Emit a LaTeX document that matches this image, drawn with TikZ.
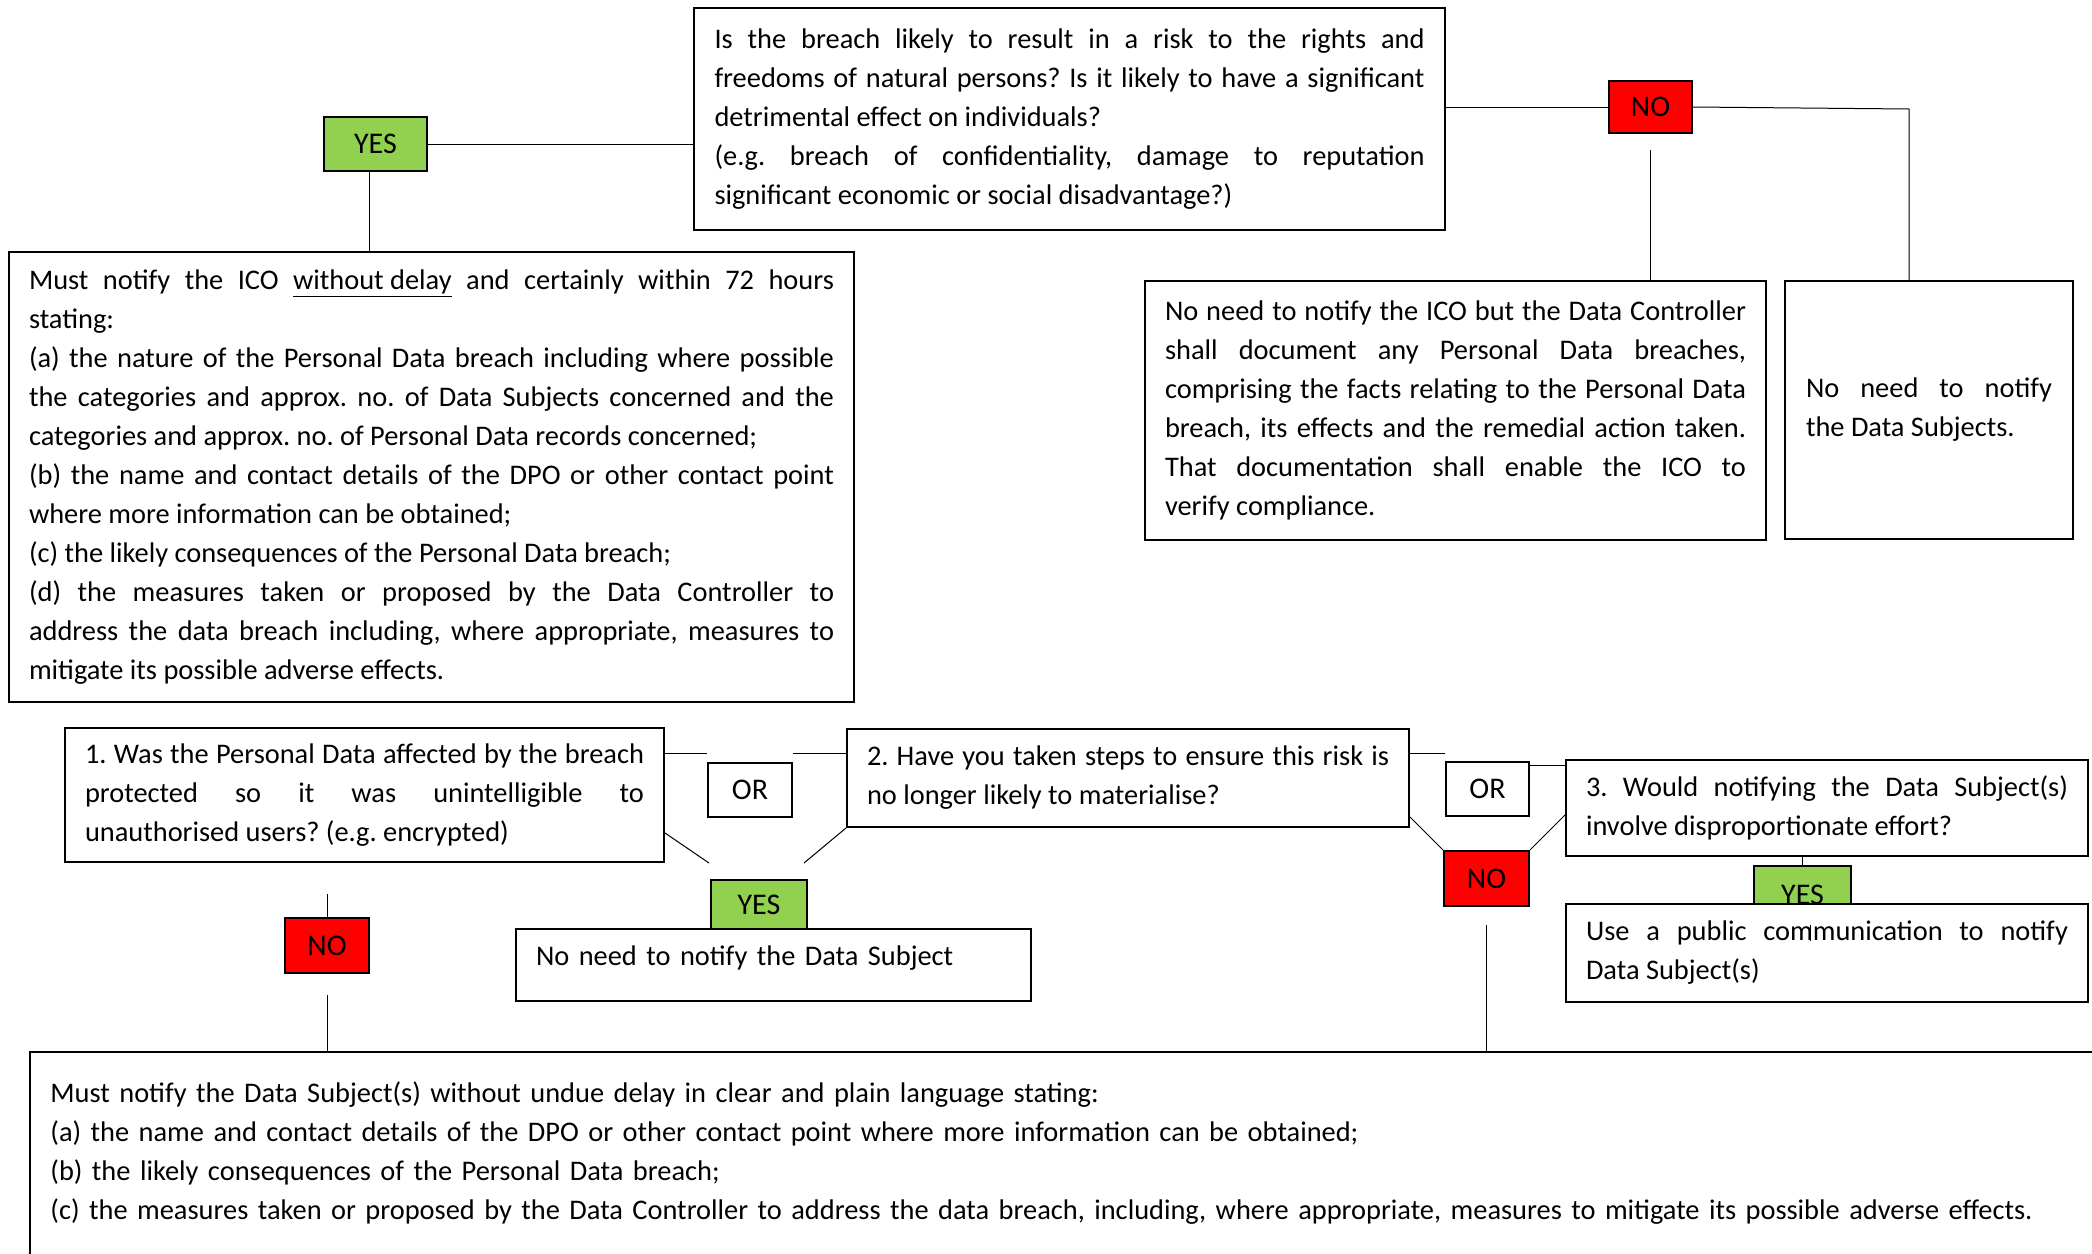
\documentclass[tikz,border=0pt]{standalone}
\usepackage{fontspec}
\setmainfont{Carlito}
\usepackage{tikz}
\usetikzlibrary{positioning, calc}
\definecolor{yesgreen}{HTML}{92D050}
\definecolor{nored}{HTML}{FF0000}
\frenchspacing

\begin{document}
\begin{tikzpicture}[x=0.5pt, y=-0.5pt,
    txt/.style={font=\fontsize{14.2}{19.5}\selectfont},
    box/.style={draw, line width=0.9pt, rectangle, fill=white, txt, align=justify, inner xsep=10pt, inner ysep=0pt},
    answer/.style={draw, line width=0.9pt, rectangle, font=\fontsize{15}{18}\selectfont, inner sep=0pt},
    yesbox/.style={answer, fill=yesgreen},
    nobox/.style={answer, fill=nored},
    orbox/.style={answer, fill=white},
    link/.style={line width=0.5pt}]
        \useasboundingbox (0,0) rectangle (2092,1253);

        \node[box, minimum width=375.5pt, minimum height=111pt, text width=355pt] (risk) at (1069.5,119)
            {Is the breach likely to result in a risk to the rights and\linebreak
             freedoms of natural persons? Is it likely to have a significant\linebreak
             detrimental effect on individuals?\\
             (e.g. breach of confidentiality, damage to reputation\linebreak
             significant economic or social disadvantage?)};
        \node[yesbox, minimum width=51.5pt, minimum height=27pt] (yesICO) at (375.5,144) {YES};
        \node[nobox, minimum width=41.5pt, minimum height=26pt] (noICO) at (1650.5,107) {NO};

        \node[box, minimum width=422.5pt, minimum height=225pt, text width=402.5pt] (notifyICO) at (431.5,477)
            {Must notify the ICO \underline{without delay} and certainly within 72 hours\linebreak
             stating:\\
             (a) the nature of the Personal Data breach including where possible\linebreak
             the categories and approx. no. of Data Subjects concerned and the\linebreak
             categories and approx. no. of Personal Data records concerned;\\
             (b) the name and contact details of the DPO or other contact point\linebreak
             where more information can be obtained;\\
             (c) the likely consequences of the Personal Data breach;\\
             (d) the measures taken or proposed by the Data Controller to\linebreak
             address the data breach including, where appropriate, measures to\linebreak
             mitigate its possible adverse effects.};
        \node[box, minimum width=310.5pt, minimum height=129.5pt, text width=290.5pt] (document) at (1455.5,410.5)
            {No need to notify the ICO but the Data Controller\linebreak
             shall document any Personal Data breaches,\linebreak
             comprising the facts relating to the Personal Data\linebreak
             breach, its effects and the remedial action taken.\linebreak
             That documentation shall enable the ICO to\linebreak
             verify compliance.};
        \node[box, minimum width=144pt, minimum height=129pt, text width=123pt] (noSubjects) at (1929,410)
            {No need to notify\linebreak the Data Subjects.};

        \node[box, minimum width=299.5pt, minimum height=67pt, text width=279.5pt] (protected) at (364.5,795)
            {1. Was the Personal Data affected by the breach\linebreak
             protected so it was unintelligible to\linebreak
             unauthorised users? (e.g. encrypted)};
        \node[orbox, minimum width=42pt, minimum height=27pt] (orA) at (750,790) {OR};
        \node[box, minimum width=281pt, minimum height=49pt, text width=261pt] (steps) at (1128,778)
            {2. Have you taken steps to ensure this risk is\linebreak
             no longer likely to materialise?};
        \node[orbox, minimum width=41.5pt, minimum height=27pt] (orB) at (1487.5,789) {OR};
        \node[box, minimum width=261pt, minimum height=48pt, text width=241pt] (effort) at (1827,808)
            {3. Would notifying the Data Subject(s)\linebreak
             involve disproportionate effort?};

        \node[yesbox, minimum width=48pt, minimum height=24.5pt] (yesNone) at (759,904.5) {YES};
        \node[box, align=left, minimum width=257.5pt, minimum height=36pt, text width=237.5pt, text height=9pt, text depth=9pt] (noneSubject) at (773.5,965)
            {No need to notify the Data Subject};
        \node[nobox, minimum width=42pt, minimum height=27.5pt] (noProtected) at (327,945.5) {NO};
        \node[nobox, minimum width=42.5pt, minimum height=27.5pt] (noSteps) at (1486.5,878.5) {NO};
        \node[yesbox, minimum width=48.5pt, minimum height=29pt] (yesPublic) at (1802.5,895) {YES};
        \node[box, minimum width=261pt, minimum height=49pt, text width=241pt] (public) at (1827,953)
            {Use a public communication to notify\linebreak
             Data Subject(s)};

        \node[box, align=left, anchor=north west, inner xsep=7pt, minimum width=1035.5pt, minimum height=101.5pt, text width=1015pt] (notifySubjects) at (29,1051)
            {Must notify the Data Subject(s) without undue delay in clear and plain language stating:\\
             (a) the name and contact details of the DPO or other contact point where more information can be obtained;\\
             (b) the likely consequences of the Personal Data breach;\\
             (c) the measures taken or proposed by the Data Controller to address the data breach, including, where appropriate, measures to mitigate its possible adverse effects.};

        \coordinate (yesLeft) at (709,863);
        \coordinate (yesRight) at (804,863);
        \coordinate (subjTurn) at (1909,109);

        \path[link]
        (yesICO.east) edge (yesICO.east -| risk.west)
        ([xshift=-3pt]yesICO.south) edge ([xshift=-3pt]yesICO.south |- notifyICO.north)
        (noICO.west -| risk.east) edge (noICO.west)
        (noICO.south) edge[shorten <=8pt] (noICO.south |- document.north)
        ([yshift=-13pt]protected.north east) edge ([yshift=-13pt]protected.north east -| orA.west)
        ([yshift=-12.5pt]steps.north west -| orA.east) edge ([yshift=-12.5pt]steps.north west)
        ([yshift=15pt]protected.south east) edge (yesLeft)
        (steps.south west) edge (yesRight)
        (noProtected.north) edge[shorten >=15.5pt] (noProtected.north |- protected.south)
        (noProtected.south) edge[shorten <=10.5pt] (noProtected.south |- notifySubjects.north)
        ([yshift=-12.5pt]steps.north east) edge ([yshift=-12.5pt]steps.north east -| orB.west)
        ([yshift=-3pt]effort.north west -| orB.east) edge ([yshift=-3pt]effort.north west)
        ([yshift=5.5pt]steps.south east) edge (noSteps.north west)
        ([yshift=21pt]effort.south west) edge (noSteps.north east)
        (noSteps.south) edge[shorten <=9pt] (noSteps.south |- notifySubjects.north)
        (effort.south -| yesPublic.north) edge (yesPublic.north)
        ([xshift=4pt]yesPublic.south) edge ([xshift=4pt,yshift=-8pt]yesPublic.south);
        \draw[link] (noICO.east) -- (subjTurn) -- (subjTurn |- noSubjects.north);
      \end{tikzpicture}
\end{document}
